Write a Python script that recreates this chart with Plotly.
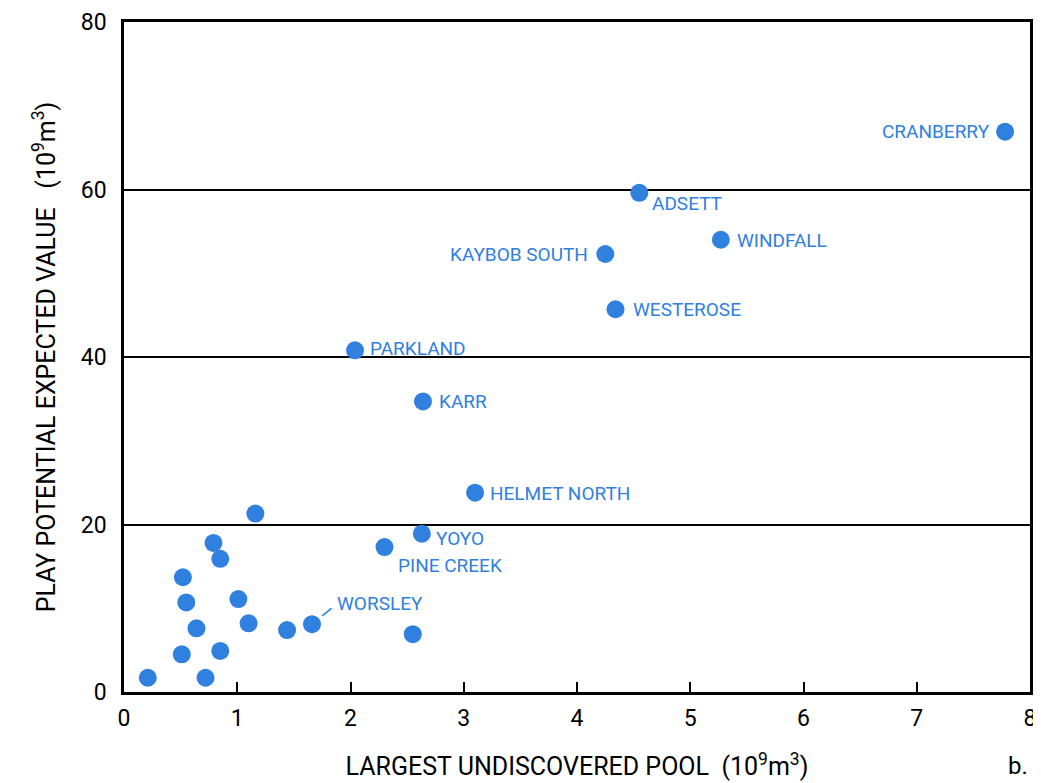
import plotly.graph_objects as go

# Data (x: largest undiscovered pool, y: play potential expected value)
named_names = ["CRANBERRY", "ADSETT", "WINDFALL", "KAYBOB SOUTH", "WESTEROSE",
               "PARKLAND", "KARR", "HELMET NORTH", "YOYO", "PINE CREEK", "WORSLEY"]
named_x = [7.78, 4.55, 5.27, 4.25, 4.34, 2.04, 2.64, 3.10, 2.63, 2.30, 1.66]
named_y = [66.9, 59.6, 54.0, 52.3, 45.7, 40.8, 34.7, 23.8, 18.9, 17.3, 8.1]

other_x = [0.21, 0.51, 0.72, 0.85, 0.64, 0.55, 0.52, 0.79, 0.85, 1.01, 1.10, 1.16, 1.44, 2.55]
other_y = [1.7, 4.5, 1.7, 4.9, 7.6, 10.7, 13.7, 17.8, 15.9, 11.1, 8.2, 21.3, 7.4, 6.9]

x_ticks = [0, 1, 2, 3, 4, 5, 6, 7, 8]
y_ticks = [0, 20, 40, 60, 80]

# label placement (pixel offsets relative to the point)
label_style = {
    "CRANBERRY": dict(xanchor="right", xshift=-13, yshift=0),
    "ADSETT": dict(xanchor="left", xshift=11, yshift=-11),
    "WINDFALL": dict(xanchor="left", xshift=14, yshift=-1),
    "KAYBOB SOUTH": dict(xanchor="right", xshift=-15, yshift=-1),
    "WESTEROSE": dict(xanchor="left", xshift=15, yshift=0),
    "PARKLAND": dict(xanchor="left", xshift=13, yshift=2),
    "KARR": dict(xanchor="left", xshift=14, yshift=0),
    "HELMET NORTH": dict(xanchor="left", xshift=13, yshift=-1),
    "YOYO": dict(xanchor="left", xshift=12, yshift=-5),
    "PINE CREEK": dict(xanchor="left", xshift=12, yshift=-18),
    "WORSLEY": dict(xanchor="left", xshift=23, yshift=21),
}

BLUE = "#2F80DF"
FONT = "Roboto, Liberation Sans, sans-serif"

fig = go.Figure()
fig.add_trace(go.Scatter(x=other_x + named_x, y=other_y + named_y, mode="markers",
                         marker=dict(size=18, color=BLUE, line=dict(width=0)),
                         showlegend=False, hoverinfo="skip"))

annotations = []
for n, x, y in zip(named_names, named_x, named_y):
    lf = dict(family=FONT, size=19, color=BLUE)
    s = label_style[n]
    annotations.append(dict(x=x, y=y, xref="x", yref="y", text=n, showarrow=False,
                            xanchor=s["xanchor"], yanchor="middle",
                            xshift=s["xshift"], yshift=s["yshift"], font=lf))
    if n == "WORSLEY":
        # short leader line from the point toward its label
        annotations.append(dict(x=x, y=y, xref="x", yref="y", text="", showarrow=True,
                                ax=21, ay=-17, arrowhead=0, arrowwidth=1.6,
                                arrowcolor=BLUE, standoff=13))

annotations.append(dict(x=1.0, y=-0.11, xref="paper", yref="paper", text="b.",
                        showarrow=False, xanchor="right", yanchor="middle",
                        font=dict(family=FONT, size=24, color="black")))

fig.update_layout(
    width=1033, height=775,
    margin=dict(l=116, r=11, t=14, b=91),
    paper_bgcolor="white", plot_bgcolor="white",
    font=dict(family=FONT, color="black"),
    annotations=annotations,
    xaxis=dict(range=[0, 8], tickvals=x_ticks, ticktext=[str(v) for v in x_ticks],
               automargin=False,
               showgrid=False, zeroline=False, showline=True, mirror=True,
               linecolor="black", linewidth=2.5,
               ticks="inside", ticklen=10, tickwidth=2, tickcolor="black",
               ticklabelstandoff=4,
               tickfont=dict(size=23, family=FONT),
               title=dict(text="LARGEST UNDISCOVERED POOL  (10<sup>9</sup>m<sup>3</sup>)",
                          font=dict(size=25, family=FONT), standoff=27)),
    yaxis=dict(range=[0, 80], tickvals=y_ticks, ticktext=[str(v) for v in y_ticks],
               automargin=False,
               showgrid=True, gridcolor="black", gridwidth=2,
               zeroline=False, showline=True, mirror=True,
               linecolor="black", linewidth=2.5, ticks="", ticklabelstandoff=10,
               tickfont=dict(size=23, family=FONT),
               title=dict(text="PLAY POTENTIAL EXPECTED VALUE   (10<sup>9</sup>m<sup>3</sup>)",
                          font=dict(size=25, family=FONT), standoff=19)),
)

fig.write_html("out.html")
